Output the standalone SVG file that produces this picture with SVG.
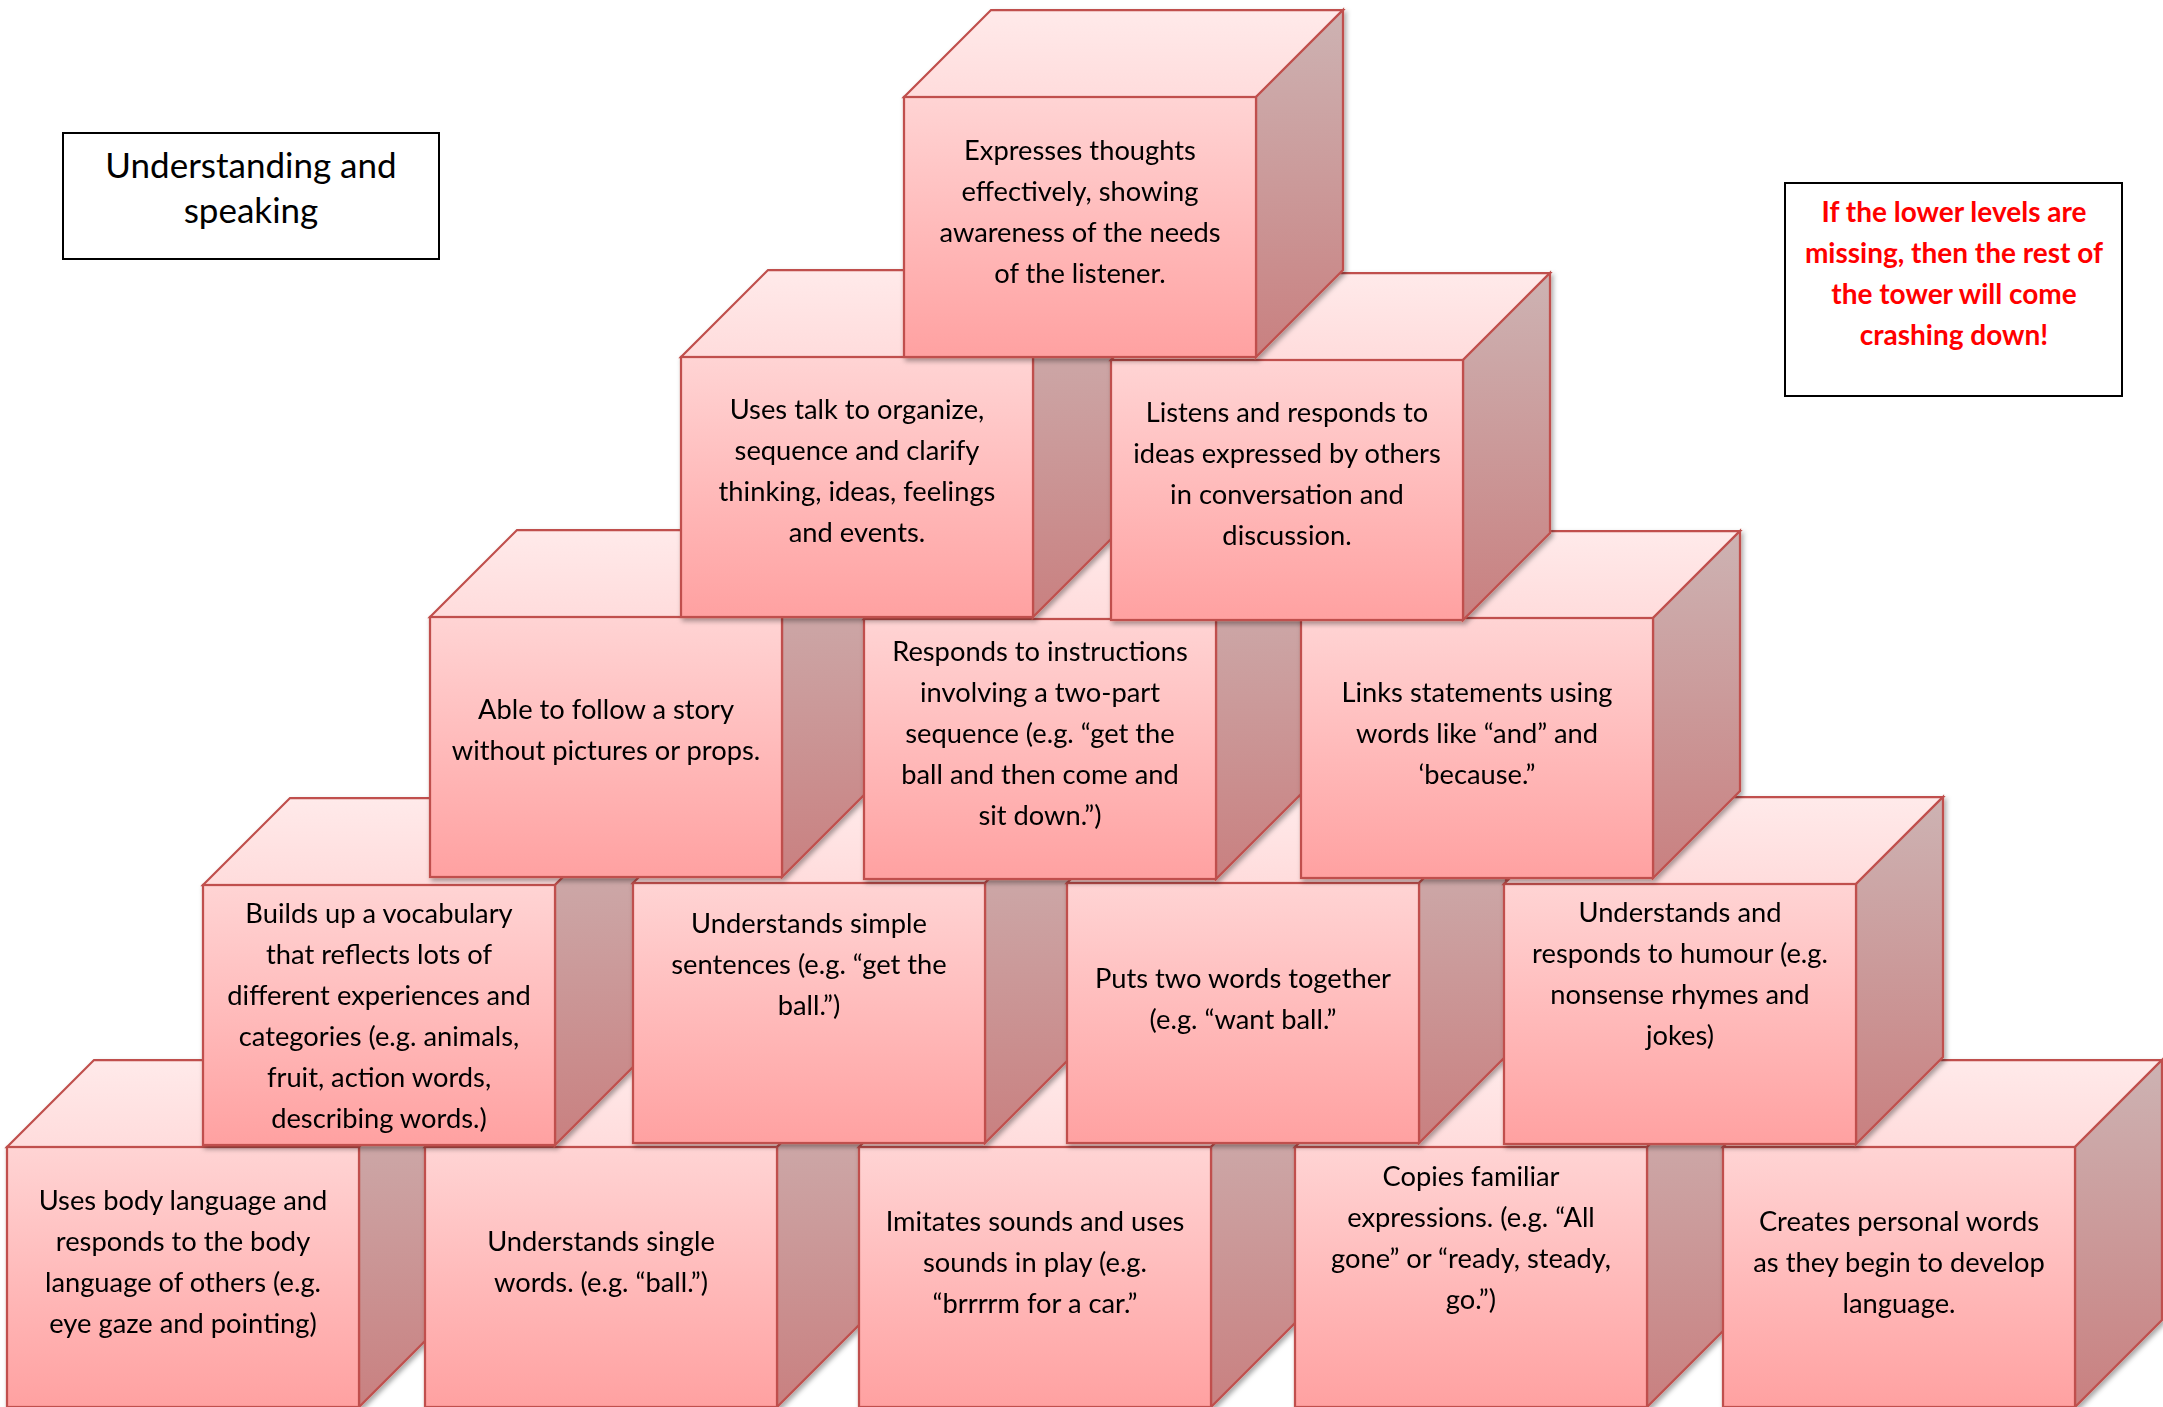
<svg xmlns="http://www.w3.org/2000/svg" width="2163" height="1407" viewBox="0 0 2163 1407">
<defs>
  <linearGradient id="gFront" x1="0" y1="0" x2="0" y2="1">
    <stop offset="0" stop-color="#FFD4D4"/>
    <stop offset="1" stop-color="#FFA1A1"/>
  </linearGradient>
  <linearGradient id="gTop" x1="0" y1="0" x2="0" y2="1">
    <stop offset="0" stop-color="#FFEAEA"/>
    <stop offset="1" stop-color="#FFDCDC"/>
  </linearGradient>
  <linearGradient id="gSide" x1="0" y1="0" x2="0" y2="1">
    <stop offset="0" stop-color="#CDB3B3"/>
    <stop offset="1" stop-color="#C98080"/>
  </linearGradient>
  <filter id="shadow" x="-10%" y="-10%" width="130%" height="130%">
    <feDropShadow dx="2" dy="3" stdDeviation="2.5" flood-color="#000" flood-opacity="0.35"/>
  </filter>
  <g id="cubeShape">
    <path class="face top" d="M0,0 L87,-87 L439,-87 L352,0 Z"/>
    <path class="face side" d="M352,0 L439,-87 L439,173 L352,260 Z"/>
    <rect class="face front" x="0" y="0" width="352" height="260"/>
  </g>
</defs>
<style>
  .top{fill:url(#gTop)}
  .side{fill:url(#gSide)}
  .front{fill:url(#gFront)}
  .face{stroke:#C0504D;stroke-width:2.25;stroke-linejoin:miter}
  .cube{filter:url(#shadow)}
  .t{font-family:Lato,"Open Sans","DejaVu Sans",sans-serif;font-size:27.3px;text-anchor:middle;fill:#000}
  .title{font-family:Lato,"Open Sans","DejaVu Sans",sans-serif;font-size:35px;text-anchor:middle;fill:#000}
  .warn{font-family:Lato,"Open Sans","DejaVu Sans",sans-serif;font-size:28px;font-weight:bold;text-anchor:middle;fill:#FF0000}
  .box{fill:#fff;stroke:#000;stroke-width:2}
</style>
<rect width="2163" height="1407" fill="#fff"/>

<g id="connectors"></g>

<g id="title-box">
  <rect class="box" x="63" y="133" width="376" height="126"/>
  <text class="title" x="251" y="178"><tspan x="251">Understanding and</tspan><tspan x="251" dy="45">speaking</tspan></text>
</g>

<g id="warning-box">
  <rect class="box" x="1785" y="183" width="337" height="213"/>
  <text class="warn" x="1954" y="222"><tspan x="1954">If the lower levels are</tspan><tspan x="1954" dy="41">missing, then the rest of</tspan><tspan x="1954" dy="41">the tower will come</tspan><tspan x="1954" dy="41">crashing down!</tspan></text>
</g>

<!-- Row 1 (bottom) -->
<g id="cube-body-language" class="cube" transform="translate(7,1147)">
  <use href="#cubeShape"/>
  <text class="t" y="63"><tspan x="176">Uses body language and</tspan><tspan x="176" dy="41">responds to the body</tspan><tspan x="176" dy="41">language of others (e.g.</tspan><tspan x="176" dy="41">eye gaze and pointing)</tspan></text>
</g>
<g id="cube-single-words" class="cube" transform="translate(425,1147)">
  <use href="#cubeShape"/>
  <text class="t" y="104"><tspan x="176">Understands single</tspan><tspan x="176" dy="41">words. (e.g. “ball.”)</tspan></text>
</g>
<g id="cube-imitates-sounds" class="cube" transform="translate(859,1147)">
  <use href="#cubeShape"/>
  <text class="t" y="84"><tspan x="176">Imitates sounds and uses</tspan><tspan x="176" dy="41">sounds in play (e.g.</tspan><tspan x="176" dy="41">“brrrrm for a car.”</tspan></text>
</g>
<g id="cube-copies-expressions" class="cube" transform="translate(1295,1147)">
  <use href="#cubeShape"/>
  <text class="t" y="39"><tspan x="176">Copies familiar</tspan><tspan x="176" dy="41">expressions. (e.g. “All</tspan><tspan x="176" dy="41">gone” or “ready, steady,</tspan><tspan x="176" dy="41">go.”)</tspan></text>
</g>
<g id="cube-personal-words" class="cube" transform="translate(1723,1147)">
  <use href="#cubeShape"/>
  <text class="t" y="84"><tspan x="176">Creates personal words</tspan><tspan x="176" dy="41">as they begin to develop</tspan><tspan x="176" dy="41">language.</tspan></text>
</g>

<!-- Row 2 -->
<g id="cube-vocabulary" class="cube" transform="translate(203,885)">
  <use href="#cubeShape"/>
  <text class="t" y="38"><tspan x="176">Builds up a vocabulary</tspan><tspan x="176" dy="41">that reflects lots of</tspan><tspan x="176" dy="41">different experiences and</tspan><tspan x="176" dy="41">categories (e.g. animals,</tspan><tspan x="176" dy="41">fruit, action words,</tspan><tspan x="176" dy="41">describing words.)</tspan></text>
</g>
<g id="cube-simple-sentences" class="cube" transform="translate(633,883)">
  <use href="#cubeShape"/>
  <text class="t" y="50"><tspan x="176">Understands simple</tspan><tspan x="176" dy="41">sentences (e.g. “get the</tspan><tspan x="176" dy="41">ball.”)</tspan></text>
</g>
<g id="cube-two-words" class="cube" transform="translate(1067,883)">
  <use href="#cubeShape"/>
  <text class="t" y="105"><tspan x="176">Puts two words together</tspan><tspan x="176" dy="41">(e.g. “want ball.”</tspan></text>
</g>
<g id="cube-humour" class="cube" transform="translate(1504,884)">
  <use href="#cubeShape"/>
  <text class="t" y="38"><tspan x="176">Understands and</tspan><tspan x="176" dy="41">responds to humour (e.g.</tspan><tspan x="176" dy="41">nonsense rhymes and</tspan><tspan x="176" dy="41">jokes)</tspan></text>
</g>

<!-- Row 3 -->
<g id="cube-follow-story" class="cube" transform="translate(430,617)">
  <use href="#cubeShape"/>
  <text class="t" y="102"><tspan x="176">Able to follow a story</tspan><tspan x="176" dy="41">without pictures or props.</tspan></text>
</g>
<g id="cube-instructions" class="cube" transform="translate(864,619)">
  <use href="#cubeShape"/>
  <text class="t" y="42"><tspan x="176">Responds to instructions</tspan><tspan x="176" dy="41">involving a two-part</tspan><tspan x="176" dy="41">sequence (e.g. “get the</tspan><tspan x="176" dy="41">ball and then come and</tspan><tspan x="176" dy="41">sit down.”)</tspan></text>
</g>
<g id="cube-links-statements" class="cube" transform="translate(1301,618)">
  <use href="#cubeShape"/>
  <text class="t" y="84"><tspan x="176">Links statements using</tspan><tspan x="176" dy="41">words like “and” and</tspan><tspan x="176" dy="41">‘because.”</tspan></text>
</g>

<!-- Row 4 -->
<g id="cube-uses-talk" class="cube" transform="translate(681,357)">
  <use href="#cubeShape"/>
  <text class="t" y="62"><tspan x="176">Uses talk to organize,</tspan><tspan x="176" dy="41">sequence and clarify</tspan><tspan x="176" dy="41">thinking, ideas, feelings</tspan><tspan x="176" dy="41">and events.</tspan></text>
</g>
<g id="cube-listens" class="cube" transform="translate(1111,360)">
  <use href="#cubeShape"/>
  <text class="t" y="62"><tspan x="176">Listens and responds to</tspan><tspan x="176" dy="41">ideas expressed by others</tspan><tspan x="176" dy="41">in conversation and</tspan><tspan x="176" dy="41">discussion.</tspan></text>
</g>

<!-- Row 5 (top) -->
<g id="cube-expresses-thoughts" class="cube" transform="translate(904,97)">
  <use href="#cubeShape"/>
  <text class="t" y="63"><tspan x="176">Expresses thoughts</tspan><tspan x="176" dy="41">effectively, showing</tspan><tspan x="176" dy="41">awareness of the needs</tspan><tspan x="176" dy="41">of the listener.</tspan></text>
</g>
</svg>
